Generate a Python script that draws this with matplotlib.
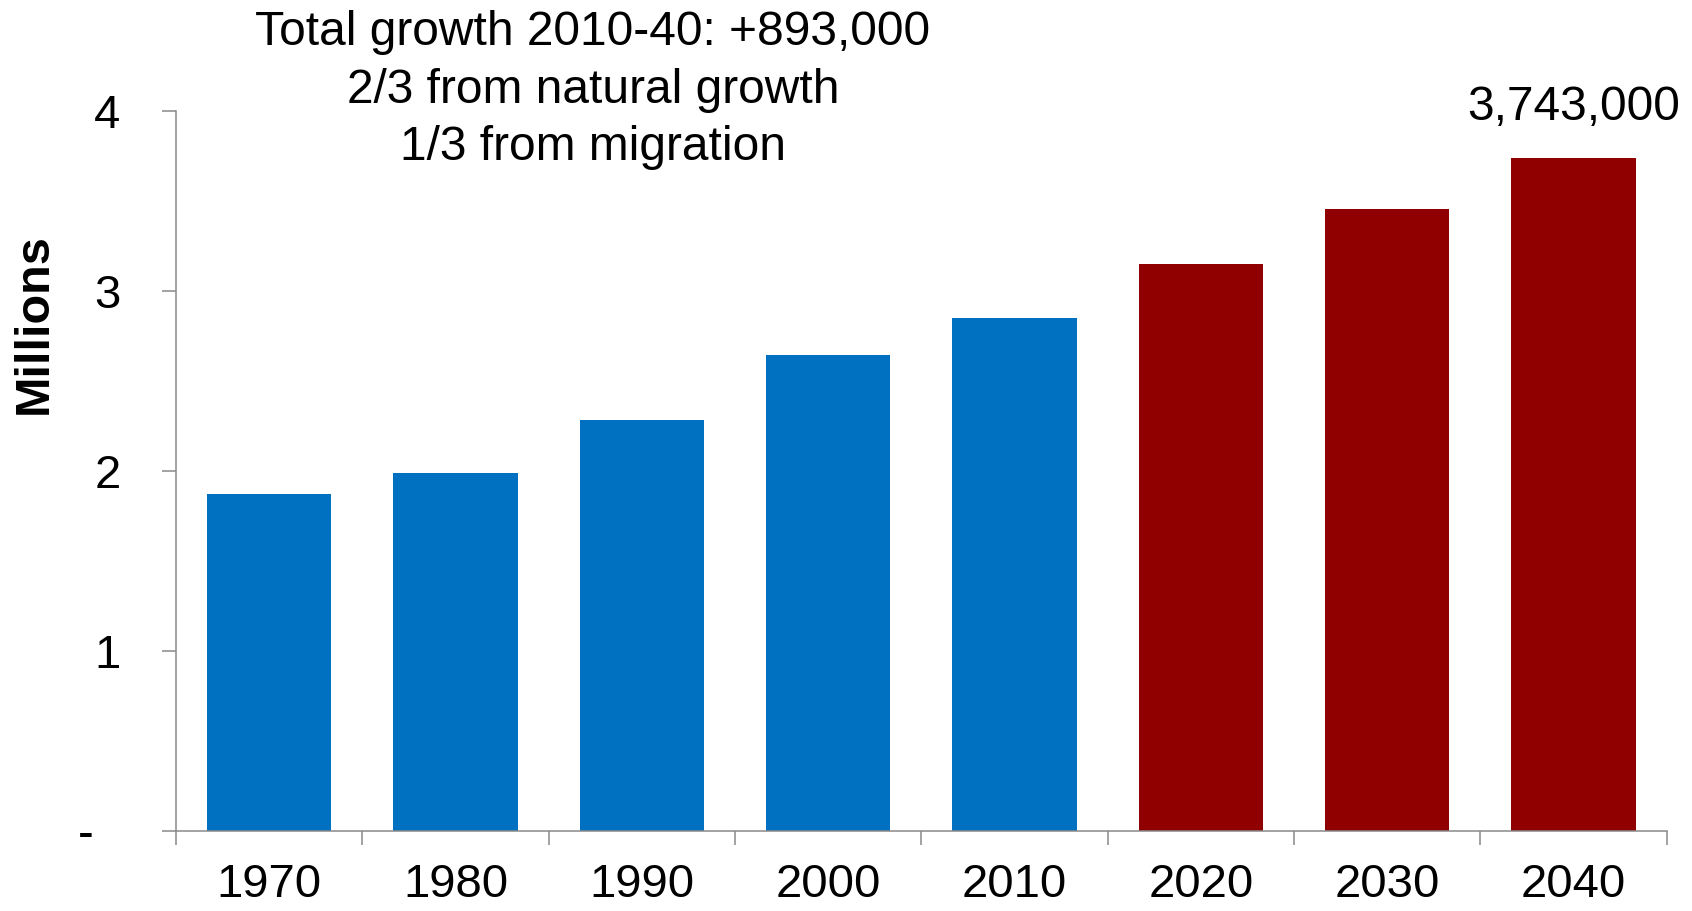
import matplotlib.pyplot as plt
import numpy as np

years = ['1970', '1980', '1990', '2000', '2010', '2020', '2030', '2040']
population = [1.874, 1.988, 2.287, 2.647, 2.850, 3.150, 3.455, 3.743]
bar_colors = ['#0070C0'] * 5 + ['#900000'] * 3
y_ticks = [0, 1, 2, 3, 4]
y_tick_labels = ['-  ', '1', '2', '3', '4']
note = 'Total growth 2010-40: +893,000\n2/3 from natural growth\n1/3 from migration'
end_label = '3,743,000'

plt.rcParams['font.family'] = ['Liberation Sans', 'DejaVu Sans']
axis_grey = '#898989'

fig = plt.figure(figsize=(16.92, 9.11), dpi=100)
ax = fig.add_axes([0.104, 0.0878, 0.881, 0.790])

x = np.arange(len(years))
ax.bar(x, population, width=0.667, color=bar_colors)

ax.set_xlim(-0.5, len(years) - 0.5)
ax.set_ylim(0, 4)

# y axis
ax.set_yticks(y_ticks)
ax.set_yticklabels(y_tick_labels, fontsize=34)
ax.tick_params(axis='y', direction='out', length=10, width=1.1, color=axis_grey, pad=30)

# x axis: labels at centres, ticks at category boundaries
ax.set_xticks(x)
ax.set_xticklabels(years, fontsize=34)
ax.set_xticks(np.arange(len(years) + 1) - 0.5, minor=True)
ax.tick_params(axis='x', which='major', length=0, pad=23)
ax.tick_params(axis='x', which='minor', direction='out', length=10, width=1.1, color=axis_grey)

for s in ['top', 'right']:
    ax.spines[s].set_visible(False)
for s in ['left', 'bottom']:
    ax.spines[s].set_color(axis_grey)
    ax.spines[s].set_linewidth(1.1)

ax.set_ylabel('Millions', fontsize=35, fontweight='bold')
ax.yaxis.set_label_coords(-0.080, 0.705)

ax.annotate(end_label, xy=(x[-1], population[-1]), xytext=(0, 20),
            textcoords='offset points', ha='center', va='bottom', fontsize=34.5)

fig.text(0.3505, 0.989, note, ha='center', va='top', fontsize=34.5, linespacing=1.36)

fig.savefig('out.png', dpi=100)
